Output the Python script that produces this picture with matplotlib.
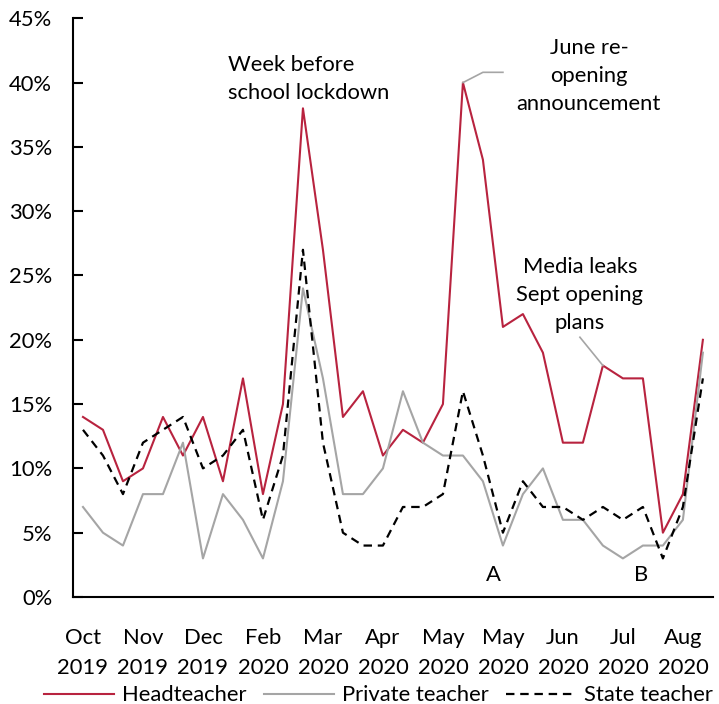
import numpy as np
import matplotlib
matplotlib.use("Agg")
import matplotlib.pyplot as plt

## Data
x_labels = ["Oct\n2019", "Nov\n2019", "Dec\n2019", "Feb\n2020", "Mar\n2020", "Apr\n2020",
            "May\n2020", "May\n2020", "Jun\n2020", "Jul\n2020", "Aug\n2020"]
headteacher = [14, 13, 9, 10, 14, 11, 14, 9, 17, 8, 15, 38, 27, 14, 16, 11,
               13, 12, 15, 40, 34, 21, 22, 19, 12, 12, 18, 17, 17, 5, 8, 20]
private_teacher = [7, 5, 4, 8, 8, 12, 3, 8, 6, 3, 9, 24, 17, 8, 8, 10,
                   16, 12, 11, 11, 9, 4, 8, 10, 6, 6, 4, 3, 4, 4, 6, 19]
state_teacher = [13, 11, 8, 12, 13, 14, 10, 11, 13, 6, 11, 27, 12, 5, 4, 4,
                 7, 7, 8, 16, 11, 5, 9, 7, 7, 6, 7, 6, 7, 3, 7, 17]

## Style
plt.rcParams["font.family"] = ["Lato", "DejaVu Sans"]
fs = 15.8
red = "#B8233F"
grey = "#A5A5A5"

fig = plt.figure(figsize=(7.19, 7.04), dpi=100)
ax = fig.add_axes([0.1015, 0.152, 0.89, 0.822])

x = np.arange(len(headteacher))
ax.plot(x, headteacher, color=red, lw=1.5, label="Headteacher")
ax.plot(x, private_teacher, color=grey, lw=1.5, label="Private teacher")
ax.plot(x, state_teacher, color="black", lw=1.6, linestyle=(0, (3.8, 2.6)),
        label="State teacher")

# leader lines for annotations
i_june = int(np.argmax(headteacher[15:])) + 15
ax.plot([i_june, i_june + 1, i_june + 2],
        [headteacher[i_june], headteacher[i_june] + 0.8, headteacher[i_june] + 0.8],
        color=grey, lw=1.2)
ax.plot([26, 24.85], [headteacher[26], 20.2], color=grey, lw=1.2)

# annotation text
ax.text(7.25, 40.25, "Week before\nschool lockdown", fontsize=fs, ha="left",
        va="center", linespacing=1.5)
ax.text(25.3, 40.5, "June re-\nopening\nannouncement", fontsize=fs, ha="center",
        va="center", linespacing=1.5)
ax.text(24.85, 23.5, "Media leaks\nSept opening\nplans", fontsize=fs, ha="center",
        va="center", linespacing=1.5)
ax.text(20.5, 1.7, "A", fontsize=fs, ha="center", va="center")
ax.text(27.9, 1.7, "B", fontsize=fs, ha="center", va="center")

# axes
ax.set_xlim(-0.5, len(headteacher) - 0.5)
ax.set_ylim(0, 45)
ax.set_yticks(np.arange(0, 46, 5))
ax.set_yticklabels([f"{v}%" for v in range(0, 46, 5)], fontsize=fs)
ax.set_xticks(np.arange(0, len(headteacher), 3))
ax.set_xticklabels(x_labels, fontsize=fs, linespacing=1.65)
ax.tick_params(axis="y", direction="in", length=7, width=1.5, pad=15)
ax.tick_params(axis="x", length=0, pad=22)

for s in ["top", "right"]:
    ax.spines[s].set_visible(False)
for s in ["left", "bottom"]:
    ax.spines[s].set_linewidth(1.5)

fig.legend(loc="lower center", bbox_to_anchor=(0.526, -0.03), ncol=3, frameon=False,
           fontsize=fs, handlelength=3.2, handletextpad=0.35, columnspacing=0.8)

fig.savefig("out.png", dpi=100)
